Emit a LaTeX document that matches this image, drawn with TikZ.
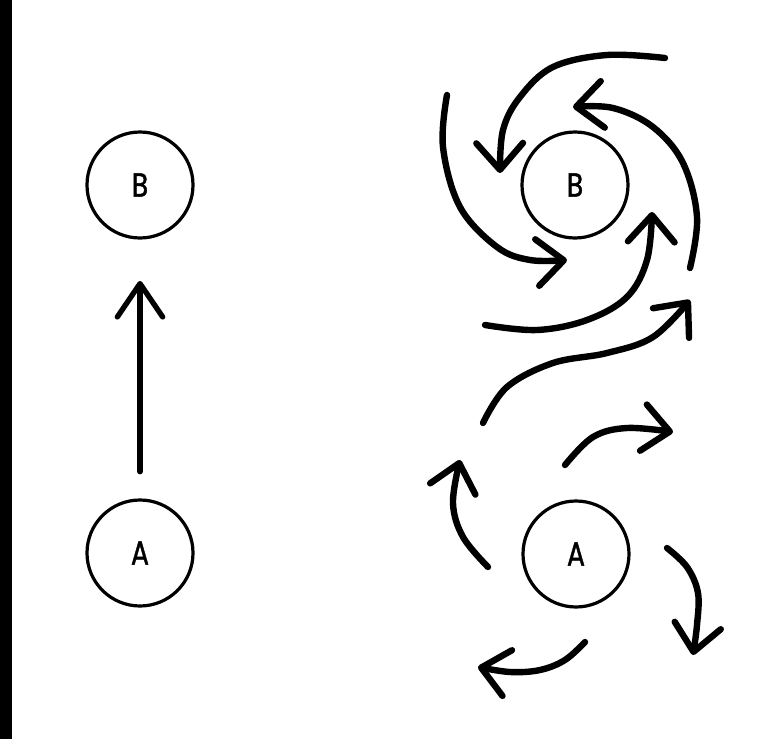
\documentclass[tikz,border=0pt]{standalone}
\usepackage{fontspec}
\newfontfamily\lab[FakeStretch=0.8,FakeBold=1.2]{Poppins}
\usetikzlibrary{arrows.meta}
\begin{document}
\begin{tikzpicture}[x=0.75pt,y=-0.75pt,
  circ/.style={circle, draw=black, line width=2.4pt, minimum size=79.5pt, inner sep=0pt,
    font=\lab\fontsize{25}{25}\selectfont},
  swirl/.style={line width=4.8pt, line cap=round, line join=round,
    -{Straight Barb[length=20pt,width=35pt,line cap=round,line join=round]}},
  straightarr/.style={line width=4pt, line cap=round,
    -{Straight Barb[length=25pt,width=34pt,line cap=round,line join=round]}},
  ]
\useasboundingbox (0,0) rectangle (783,739);
\fill[white] (0,0) rectangle (783,739);
\fill[black] (0,0) rectangle (12,739);

% left pair
\node[circ] (lB) at (140,185) {B};
\node[circ] (lA) at (140,553) {A};
\draw[straightarr, shorten <=20pt, shorten >=31pt] (lA) -- (lB);

% right pair
\node[circ] (rB) at (575,185) {B};
\node[circ] (rA) at (576,554) {A};

% swirl around B
\draw[swirl] plot[smooth, tension=0.6] coordinates {(665,58) (607,55) (553,67) (520,97) (503,130) (500,173)};
\draw[swirl] plot[smooth, tension=0.6] coordinates {(447,95) (443,147) (460,207) (497,247) (530,260) (567,260)};
\draw[swirl] plot[smooth, tension=0.6] coordinates {(485,325) (537,330) (587,320) (627,297) (647,260) (652,212)};
\draw[swirl] plot[smooth, tension=0.6] coordinates {(690,268) (697,217) (683,163) (653,127) (613,108) (573,107)};
% long S-curve
\draw[swirl] plot[smooth, tension=0.6] coordinates {(483,423) (507,387) (553,363) (607,353) (653,337) (690,300)};

% small arrows around A
\draw[swirl] plot[smooth, tension=0.6] coordinates {(565,465) (593,437) (627,428) (673,432)};
\draw[swirl] plot[smooth, tension=0.6] coordinates {(488,567) (463,537) (453,503) (460,460)};
\draw[swirl] plot[smooth, tension=0.6] coordinates {(667,548) (687,567) (698,593) (697,625) (693,655)};
\draw[swirl] plot[smooth, tension=0.6] coordinates {(585,642) (565,660) (540,670) (510,672) (478,667)};
\end{tikzpicture}
\end{document}
